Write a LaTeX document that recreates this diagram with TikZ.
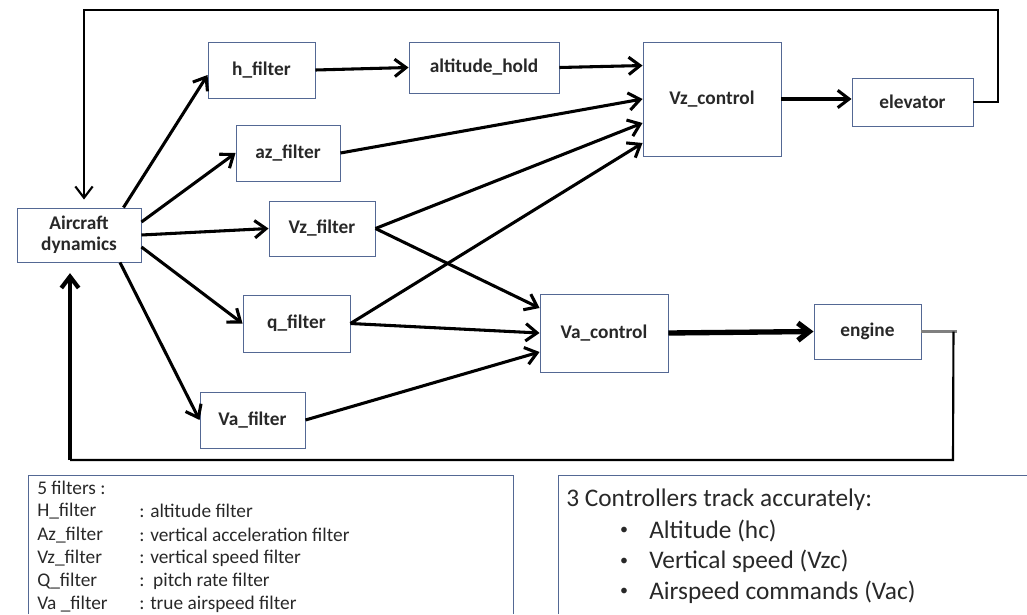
\documentclass[tikz,border=0pt]{standalone}
\usepackage{fontspec}
\setmainfont{Carlito}
\usepackage{tikz}
\usetikzlibrary{calc,arrows.meta}

\definecolor{boxcol}{RGB}{84,104,148}
\definecolor{txtcol}{RGB}{40,40,40}

\begin{document}
\begin{tikzpicture}[x=0.75pt, y=-0.75pt,
    >={Straight Barb[length=8.5pt, width=13pt]},
    blk/.style={draw=boxcol, line width=0.7pt, fill=white, inner sep=0pt, align=center, text=txtcol, font=\fontsize{14.5}{16}\selectfont\bfseries},
    con/.style={->, line width=2.3pt},
    fb/.style={line width=1.6pt},
    legend/.style={inner sep=0pt, text=txtcol, font=\fontsize{14.5}{16}\selectfont},
    ctrl/.style={inner sep=0pt, text=txtcol, font=\fontsize{19}{22}\selectfont}]
    \useasboundingbox (0,0) rectangle (1027,614);
    % blocks
    \node[blk, minimum width=93pt, minimum height=40.5pt] (ac) at (79,235) {Aircraft\\dynamics};
    \node[blk, minimum width=80.25pt, minimum height=42pt] (hf) at (261.5,70) {h\_filter};
    \node[blk, minimum width=112.5pt, minimum height=38.25pt] (ah) at (484,67.5) {altitude\_hold};
    \node[blk, minimum width=78pt, minimum height=42pt] (az) at (288,153) {az\_filter};
    \node[blk, minimum width=79.5pt, minimum height=41.25pt] (vz) at (322,228.5) {Vz\_filter};
    \node[blk, minimum width=80.25pt, minimum height=42.75pt] (qf) at (296.5,323.5) {q\_filter};
    \node[blk, minimum width=78.75pt, minimum height=42pt] (va) at (252.5,420) {Va\_filter};
    \node[blk, minimum width=103.5pt, minimum height=85.5pt] (vzc) at (712,99) {Vz\_control};
    \node[blk, minimum width=90.75pt, minimum height=36pt] (el) at (912.5,102) {elevator};
    \node[blk, minimum width=96pt, minimum height=58.5pt] (vac) at (604,333) {Va\_control};
    \node[blk, minimum width=80.25pt, minimum height=41.25pt] (en) at (867.5,331.5) {engine};

    % from aircraft to filters
    \draw[con] ($(ac.north east)+(-18,0)$) -- ($(hf.west)+(0,5)$);
    \draw[con] ($(ac.east)+(0,-13)$) -- (az.west);
    \draw[con] (ac.east) -- (vz.west);
    \draw[con] ($(ac.east)+(0,12)$) -- (qf.west);
    \draw[con] ($(ac.south)+(41,0)$) -- (va.west);

    % filters to controllers
    \draw[con] (hf.east) -- (ah.west);
    \draw[con] (ah.east) -- ($(vzc.north west)+(0,24)$);
    \draw[con] (az.east) -- (vzc.west);
    \draw[con] (vz.east) -- ($(vzc.west)+(0,24)$);
    \draw[con] (qf.east) -- ($(vzc.west)+(0,44)$);
    \draw[con] (vz.east) -- ($(vac.west)+(0,-25)$);
    \draw[con] (qf.east) -- (vac.west);
    \draw[con] (va.east) -- ($(vac.west)+(0,19)$);

    % controllers to actuators
    \draw[con] (vzc.east) -- ($(el.west)+(0,-3)$);
    \draw[->, line width=4pt] (vac.east) -- (en.west);

    % feedback loops
    \coordinate (fbtop) at (998,10);
    \coordinate (fbbot) at (953,460);
    \coordinate (fbleft) at (70,460);
    \draw[fb, ->, shorten >=6pt] (el.east) -| (fbtop) -| ($(ac.north)+(5,0)$);
    \draw[gray, line width=1.6pt] (en.east) -- ++(36,0);
    \draw[fb] ($(en.east)+(32,0)$) -- (fbbot) -- (fbleft);
    \draw[->, line width=3.2pt, shorten >=8pt] (fbleft) -- ($(ac.south)+(-9,0)$);

    % legend boxes
    \draw[boxcol, line width=0.7pt] (28,614) |- (513,475) -- (513,614);
    \draw[boxcol, line width=0.7pt] (558,614) |- (1027,475);

    \node[legend, anchor=west] (lgtitle) at (37,488) {5 filters :};
    \foreach \nm/\dsc [count=\i] in {H\_filter/: altitude filter, Az\_filter/: vertical acceleration filter, Vz\_filter/: vertical speed filter, Q\_filter/:\ \ pitch rate filter, Va \_filter/: true airspeed filter}
    {
        \node[legend, anchor=west] (lgn\i) at (37, 488+23.3*\i) {\nm};
        \node[legend, anchor=west] (lgd\i) at (139, 488+23.3*\i) {\dsc};
    }

    \node[ctrl, anchor=west] (cttitle) at (566,500) {3 Controllers track accurately:};
    \foreach \txt [count=\i] in {Altitude (hc), Vertical speed (Vzc), Airspeed commands (Vac)}
    {
        \node[ctrl, font=\fontsize{12}{14}\selectfont] (ctb\i) at (624, 500+30.7*\i) {\textbullet};
        \node[ctrl, anchor=west] (ctt\i) at (649, 500+30.7*\i) {\txt};
    }
\end{tikzpicture}
\end{document}
